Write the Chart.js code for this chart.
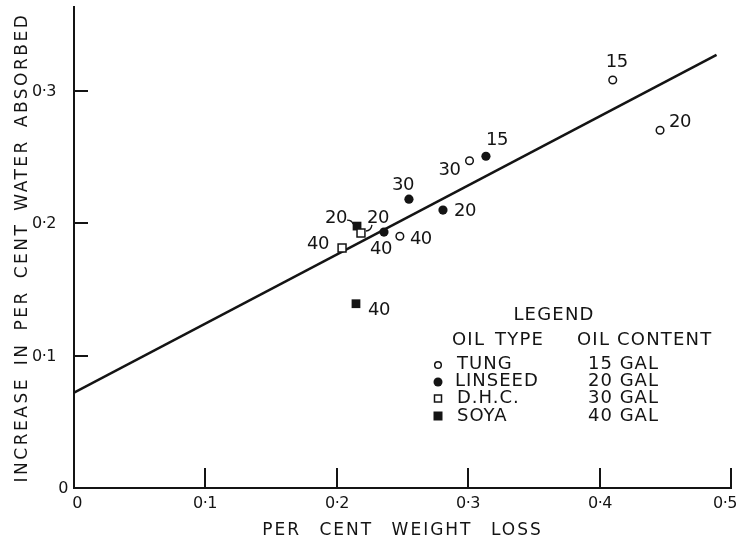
<!DOCTYPE html>
<html>
<head>
<meta charset="utf-8">
<script src="https://cdn.jsdelivr.net/npm/chart.js@4/dist/chart.umd.min.js"></script>
<style>
  html, body { margin: 0; padding: 0; background: #fff; }
  #wrap { width: 740px; height: 537px; }
</style>
</head>
<body>
<div id="wrap"><canvas id="c" width="740" height="537"></canvas></div>
<script>
// Per cent weight loss (x) and increase in per cent water absorbed (y), by oil type
const tungX = [0.410, 0.446, 0.301, 0.248];
const tungY = [0.308, 0.270, 0.247, 0.190];
const tungGal = ['15', '20', '30', '40'];

const linseedX = [0.3135, 0.2808, 0.2549, 0.2359];
const linseedY = [0.2504, 0.2098, 0.2180, 0.1932];
const linseedGal = ['15', '20', '30', '40'];

const dhcX = [0.2184, 0.2040];
const dhcY = [0.1925, 0.1812];
const dhcGal = ['20', '40'];

const soyaX = [0.2154, 0.2146];
const soyaY = [0.1977, 0.1391];
const soyaGal = ['20', '40'];

// Fitted straight line, end points
const fitX = [0, 0.489];
const fitY = [0.072, 0.327];

const xTicks = [0, 0.1, 0.2, 0.3, 0.4, 0.5];
const yTicks = [0, 0.1, 0.2, 0.3];

const legendTypes = ['TUNG', 'LINSEED', 'D.H.C.', 'SOYA'];
const legendContents = ['15 GAL', '20 GAL', '30 GAL', '40 GAL'];

const INK = '#141414';
const FONT = '"DejaVu Sans", sans-serif';

const pts = (xs, ys) => xs.map((x, i) => ({ x, y: ys[i] }));
const fmt = v => (v === 0 ? '0' : v.toFixed(1).replace('.', '\u00B7'));

// Where each oil-content label sits relative to its marker (px)
const labelShift = {
  tung:    [[4, -18], [20, -8], [-20, 10], [21, 3]],
  linseed: [[11, -16], [22, 1], [-6, -14], [-3, 17]],
  dhc:     [[17, -15], [-24, -4]],
  soya:    [[-21, -8], [23, 7]]
};
// Small hooked leaders joining crowded labels to their markers
const leaders = [
  { key: 'soya', i: 0, from: [-10, -6], ctrl: [-5, -6], to: [-4, -2] },
  { key: 'dhc',  i: 0, from: [11, -8], ctrl: [10, -2], to: [5, -2] }
];
// Hand nudges for the tick numerals at the ends of the axes
const xLabelNudge = { 0: 3, 0.5: -6 };
const yLabelNudge = { 0: 12 };

const pointLabels = {
  id: 'pointLabels',
  afterDatasetsDraw(chart) {
    const ctx = chart.ctx;
    ctx.save();
    ctx.fillStyle = INK;
    ctx.strokeStyle = INK;
    ctx.font = '18px ' + FONT;
    ctx.letterSpacing = '-0.5px';
    ctx.textAlign = 'center';
    ctx.textBaseline = 'middle';
    chart.data.datasets.forEach((ds, di) => {
      if (!ds.gal) return;
      const meta = chart.getDatasetMeta(di);
      meta.data.forEach((el, i) => {
        const s = labelShift[ds.key][i];
        ctx.fillText(ds.gal[i], el.x + s[0], el.y + s[1]);
      });
    });
    ctx.lineWidth = 1.3;
    leaders.forEach(l => {
      const di = chart.data.datasets.findIndex(d => d.key === l.key);
      const el = chart.getDatasetMeta(di).data[l.i];
      ctx.beginPath();
      ctx.moveTo(el.x + l.from[0], el.y + l.from[1]);
      ctx.quadraticCurveTo(el.x + l.ctrl[0], el.y + l.ctrl[1], el.x + l.to[0], el.y + l.to[1]);
      ctx.stroke();
    });
    ctx.restore();
  }
};

// Tick marks drawn inward from both axes, with their numerals outside
const axisMarks = {
  id: 'axisMarks',
  afterDraw(chart) {
    const { ctx, chartArea: a, scales: { x, y } } = chart;
    ctx.save();
    ctx.strokeStyle = INK;
    ctx.fillStyle = INK;
    ctx.lineWidth = 2;
    ctx.font = '16px ' + FONT;
    ctx.letterSpacing = '-0.5px';
    ctx.textBaseline = 'middle';
    x.ticks.forEach(t => {
      const px = Math.round(x.getPixelForValue(t.value));
      if (t.value !== 0) {
        ctx.beginPath();
        ctx.moveTo(px, a.bottom);
        ctx.lineTo(px, a.bottom - 20);
        ctx.stroke();
      }
      ctx.textAlign = 'center';
      ctx.fillText(fmt(t.value), px + (xLabelNudge[t.value] || 0), a.bottom + 16);
    });
    y.ticks.forEach(t => {
      const py = Math.round(y.getPixelForValue(t.value));
      if (t.value !== 0) {
        ctx.beginPath();
        ctx.moveTo(a.left, py);
        ctx.lineTo(a.left + 14, py);
        ctx.stroke();
      }
      ctx.textAlign = 'right';
      ctx.fillText(fmt(t.value), a.left - 18 + (yLabelNudge[t.value] || 0), py + 1);
    });
    ctx.restore();
  }
};

// Lettered axis titles and the legend block
const lettering = {
  id: 'lettering',
  afterDraw(chart) {
    const { ctx, chartArea: a } = chart;
    ctx.save();
    ctx.fillStyle = INK;
    ctx.strokeStyle = INK;
    ctx.font = '17px ' + FONT;
    ctx.textBaseline = 'alphabetic';

    // x title
    ctx.letterSpacing = '2px';
    ctx.wordSpacing = '11px';
    ctx.textAlign = 'center';
    ctx.fillText('PER CENT WEIGHT LOSS', (a.left + a.right) / 2, 535);

    // y title
    ctx.save();
    ctx.letterSpacing = '2.5px';
    ctx.wordSpacing = '4px';
    ctx.translate(27, (a.top + a.bottom) / 2);
    ctx.rotate(-Math.PI / 2);
    ctx.fillText('INCREASE IN PER CENT WATER ABSORBED', 0, 0);
    ctx.restore();

    // legend
    ctx.font = '18px ' + FONT;
    ctx.textBaseline = 'middle';
    ctx.letterSpacing = '1.2px';
    ctx.wordSpacing = '3px';
    ctx.textAlign = 'center';
    ctx.fillText('LEGEND', 554, 315);
    ctx.textAlign = 'left';
    ctx.fillText('OIL TYPE', 452, 340);
    ctx.wordSpacing = '0px';
    ctx.fillText('OIL CONTENT', 577, 340);
    const rows = [364, 381, 398, 416];
    ctx.letterSpacing = '1px';
    legendTypes.forEach((t, i) => ctx.fillText(t, i === 1 ? 455 : 457, rows[i]));
    legendContents.forEach((t, i) => ctx.fillText(t, 588, rows[i]));

    // legend markers
    const mx = 438;
    ctx.lineWidth = 1.5;
    ctx.beginPath(); ctx.arc(mx, rows[0] + 1, 3.3, 0, Math.PI * 2); ctx.stroke();
    ctx.beginPath(); ctx.arc(mx, rows[1] + 1, 4.5, 0, Math.PI * 2); ctx.fill();
    ctx.strokeRect(mx - 3.5, rows[2] - 3, 7, 7);
    ctx.fillRect(mx - 4.5, rows[3] - 4.5, 9, 9);
    ctx.restore();
  }
};

new Chart(document.getElementById('c'), {
  data: {
    datasets: [
      {
        type: 'line', key: 'fit', data: pts(fitX, fitY),
        borderColor: INK, borderWidth: 2.6, pointRadius: 0, fill: false, order: 10
      },
      {
        type: 'scatter', key: 'tung', gal: tungGal, data: pts(tungX, tungY),
        pointStyle: 'circle', pointRadius: 3.8, borderWidth: 1.5,
        borderColor: INK, backgroundColor: '#fff', order: 1
      },
      {
        type: 'scatter', key: 'linseed', gal: linseedGal, data: pts(linseedX, linseedY),
        pointStyle: 'circle', pointRadius: 4.6, borderWidth: 0,
        borderColor: INK, backgroundColor: INK, order: 1
      },
      {
        type: 'scatter', key: 'dhc', gal: dhcGal, data: pts(dhcX, dhcY),
        pointStyle: 'rect', pointRadius: 5.6, borderWidth: 1.5,
        borderColor: INK, backgroundColor: '#fff', order: 1
      },
      {
        type: 'scatter', key: 'soya', gal: soyaGal, data: pts(soyaX, soyaY),
        pointStyle: 'rect', pointRadius: 6.2, borderWidth: 0,
        borderColor: INK, backgroundColor: INK, order: 1
      }
    ]
  },
  options: {
    responsive: false,
    animation: false,
    devicePixelRatio: 1,
    layout: { padding: { top: 5, right: 9, left: 0, bottom: 0 } },
    plugins: { legend: { display: false }, tooltip: { enabled: false } },
    scales: {
      x: {
        type: 'linear', min: 0, max: 0.5,
        afterBuildTicks: s => { s.ticks = xTicks.map(v => ({ value: v })); },
        afterFit: s => { s.height = 49; s.paddingLeft = 0; s.paddingRight = 0; },
        grid: { drawOnChartArea: false, drawTicks: false },
        border: { display: true, color: INK, width: 2 },
        ticks: { display: false }
      },
      y: {
        type: 'linear', min: 0, max: 0.363,
        afterBuildTicks: s => { s.ticks = yTicks.map(v => ({ value: v })); },
        afterFit: s => { s.width = 74; s.paddingTop = 0; s.paddingBottom = 0; },
        grid: { drawOnChartArea: false, drawTicks: false },
        border: { display: true, color: INK, width: 2 },
        ticks: { display: false }
      }
    }
  },
  plugins: [axisMarks, pointLabels, lettering]
});
</script>
</body>
</html>
